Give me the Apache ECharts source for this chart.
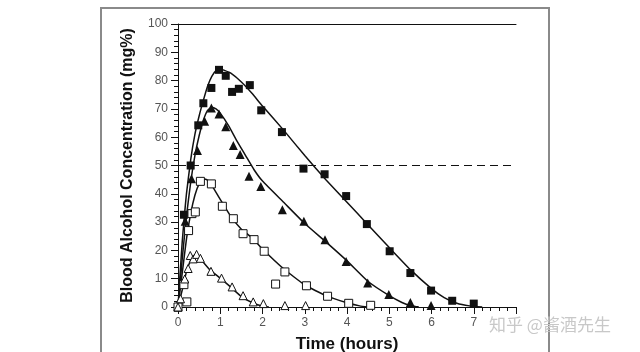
<!DOCTYPE html>
<html>
<head>
<meta charset="utf-8">
<script src="https://cdn.jsdelivr.net/npm/echarts@6/dist/echarts.min.js"></script>
<style>
  html, body { margin: 0; padding: 0; background: #fff; }
  #chart { width: 640px; height: 352px; }
</style>
</head>
<body>
<div id="chart"></div>
<script>
// measured points (time in hours, concentration in mg%)
var fullSqT = [0, 0.14, 0.3, 0.48, 0.6, 0.79, 0.97, 1.13, 1.28, 1.44, 1.7, 1.97, 2.46, 2.97, 3.47, 3.98, 4.47, 5.01, 5.5, 5.99, 6.49, 7.0];
var fullSqV = [0, 32.6, 50, 64.2, 72, 77.4, 83.8, 81.7, 76, 77.1, 78.4, 69.5, 61.8, 48.9, 46.9, 39.2, 29.3, 19.7, 12, 5.8, 2.2, 1.2];

var fullTriT = [0, 0.17, 0.32, 0.46, 0.63, 0.79, 0.97, 1.13, 1.31, 1.47, 1.68, 1.96, 2.47, 2.98, 3.48, 3.98, 4.49, 4.99, 5.5, 5.99];
var fullTriV = [0, 30.3, 45.3, 55.3, 65.6, 70.3, 68.2, 63.7, 57.1, 53.9, 46.2, 42.6, 34.4, 30.3, 23.8, 16.1, 8.5, 4.4, 1.6, 0.5];

var openSqT = [0, 0.14, 0.21, 0.25, 0.33, 0.41, 0.53, 0.79, 1.05, 1.31, 1.54, 1.8, 2.04, 2.31, 2.53, 3.04, 3.54, 4.04, 4.56];
var openSqV = [0, 7.9, 1.8, 27, 33, 33.6, 44.4, 43.5, 35.6, 31.2, 25.9, 23.8, 19.7, 8.1, 12.4, 7.5, 3.8, 1.3, 0.6];

var openTriT = [0, 0.06, 0.16, 0.24, 0.29, 0.36, 0.44, 0.53, 0.78, 1.03, 1.28, 1.54, 1.78, 2.02, 2.53, 3.02];
var openTriV = [0, 2.9, 9.9, 13.6, 18.2, 17, 18.6, 17.2, 12.6, 10.2, 7.1, 4, 1.8, 1.2, 0.5, 0.5];

// fitted curves
var fitSqT = [0, 0.05, 0.1, 0.15, 0.2, 0.3, 0.4, 0.5, 0.6, 0.7, 0.8, 0.9, 1.0, 1.1, 1.25, 1.5, 1.75, 2, 2.5, 3, 3.5, 4, 4.5, 5, 5.5, 6, 6.3, 6.6, 6.9, 7.2];
var fitSqV = [0, 12, 23, 32, 40, 52, 61, 67.5, 73, 78, 81.5, 83.5, 84, 83.6, 82.6, 79.5, 75.5, 71, 62.5, 53.5, 45, 37, 29, 21, 13.2, 6.5, 3.3, 1.3, 0.4, 0];

var fitTriT = [0, 0.1, 0.2, 0.3, 0.4, 0.5, 0.6, 0.7, 0.8, 0.9, 1.0, 1.2, 1.4, 1.6, 1.8, 2, 2.5, 3, 3.5, 4, 4.5, 5, 5.3, 5.5, 5.7];
var fitTriV = [0, 17, 32, 44, 53.5, 60.5, 66, 69.5, 70.6, 70, 68.5, 64, 58.5, 53.5, 48.5, 44.5, 37, 29.5, 23, 16.3, 9, 4, 1.6, 0.5, 0];

var fitOpenSqT = [0, 0.1, 0.2, 0.3, 0.4, 0.5, 0.6, 0.7, 0.8, 1, 1.25, 1.5, 1.75, 2, 2.5, 3, 3.5, 4, 4.3, 4.5];
var fitOpenSqV = [0, 12, 24, 33, 39.5, 43.5, 45.2, 44.8, 43, 38, 32, 27.5, 24.5, 20.5, 13.5, 7.8, 4, 1.5, 0.4, 0];

var fitOpenTriT = [0, 0.1, 0.2, 0.3, 0.4, 0.5, 0.75, 1, 1.25, 1.5, 1.75, 2, 2.15];
var fitOpenTriV = [0, 6, 12.5, 16.5, 18.2, 17.5, 13.2, 10.2, 7, 3.7, 1.6, 0.3, 0];

var limitLine = 50;
var xTicks = ['0', '1', '2', '3', '4', '5', '6', '7'];

function pairs(t, v) {
    return t.map(function(x, i) { return [x, v[i]]; });
}

var chart = echarts.init(document.getElementById('chart'));

function curve(t, v) {
    return {
        type: 'line',
        data: pairs(t, v),
        smooth: 0.15,
        showSymbol: false,
        symbol: 'none',
        silent: true,
        z: 2,
        lineStyle: { color: '#111', width: 1.5 }
    };
}

function points(t, v, shape, filled, size) {
    return {
        type: 'scatter',
        data: pairs(t, v),
        symbol: shape,
        symbolSize: size,
        z: 3,
        itemStyle: {
            opacity: 1,
            color: filled ? '#111' : '#fff',
            borderColor: '#111',
            borderWidth: filled ? 0 : 1
        }
    };
}

var dashed = curve(fitOpenTriT, fitOpenTriV);
dashed.markLine = {
    silent: true,
    symbol: 'none',
    label: { show: false },
    lineStyle: { color: '#111', type: [8, 5], width: 1 },
    data: [{ yAxis: limitLine }]
};

var option = {
    animation: false,
    backgroundColor: '#fff',
    grid: { left: 178, right: 124, top: 24, bottom: 45, outerBoundsMode: 'none', containLabel: false },
    xAxis: [{
        type: 'value',
        min: 0, max: 8, interval: 1,
        name: 'Time (hours)',
        nameLocation: 'middle',
        nameGap: 29,
        nameTextStyle: { fontFamily: 'Liberation Sans', fontWeight: 'bold', fontSize: 17, color: '#111' },
        axisLine: { lineStyle: { color: '#111', width: 1 } },
        axisTick: { inside: false, length: 7, lineStyle: { color: '#111' } },
        minorTick: { show: true, splitNumber: 5, length: 4, lineStyle: { color: '#111' } },
        splitLine: { show: false },
        axisLabel: {
            margin: 10, color: '#555', fontFamily: 'Liberation Sans', fontSize: 12,
            formatter: function(val) { return val < xTicks.length ? xTicks[val] : ''; }
        }
    }, {
        type: 'value',
        position: 'top',
        min: 0, max: 8,
        axisLine: { show: true, onZero: false, lineStyle: { color: '#111', width: 1 } },
        axisTick: { show: false },
        axisLabel: { show: false },
        splitLine: { show: false }
    }],
    yAxis: {
        type: 'value',
        min: 0, max: 100, interval: 10,
        name: 'Blood Alcohol Concentration (mg%)',
        nameLocation: 'middle',
        nameGap: 42,
        nameTextStyle: { fontFamily: 'Liberation Sans', fontWeight: 'bold', fontSize: 16, color: '#111' },
        axisLine: { show: true, lineStyle: { color: '#111', width: 1 } },
        axisTick: { show: true, length: 7, lineStyle: { color: '#111' } },
        minorTick: { show: true, splitNumber: 5, length: 4, lineStyle: { color: '#111' } },
        splitLine: { show: false },
        axisLabel: { margin: 10, color: '#555', fontFamily: 'Liberation Sans', fontSize: 12 }
    },
    graphic: [{
        type: 'rect',
        shape: { x: 101, y: 8, width: 448, height: 360 },
        style: { fill: 'none', stroke: '#8a8a8a', lineWidth: 2 },
        z: -1
    }, {
        type: 'text',
        left: 489, top: 316,
        style: {
            text: '知乎 @酱酒先生',
            fill: '#c8c8c8',
            font: '17px "Noto Sans CJK SC"'
        },
        z: 10
    }],
    series: [
        curve(fitSqT, fitSqV),
        curve(fitTriT, fitTriV),
        curve(fitOpenSqT, fitOpenSqV),
        dashed,
        points(fullSqT, fullSqV, 'rect', true, 8),
        points(fullTriT, fullTriV, 'triangle', true, 9),
        points(openSqT, openSqV, 'rect', false, 8),
        points(openTriT, openTriV, 'triangle', false, 8)
    ]
};

chart.setOption(option);
</script>
</body>
</html>
